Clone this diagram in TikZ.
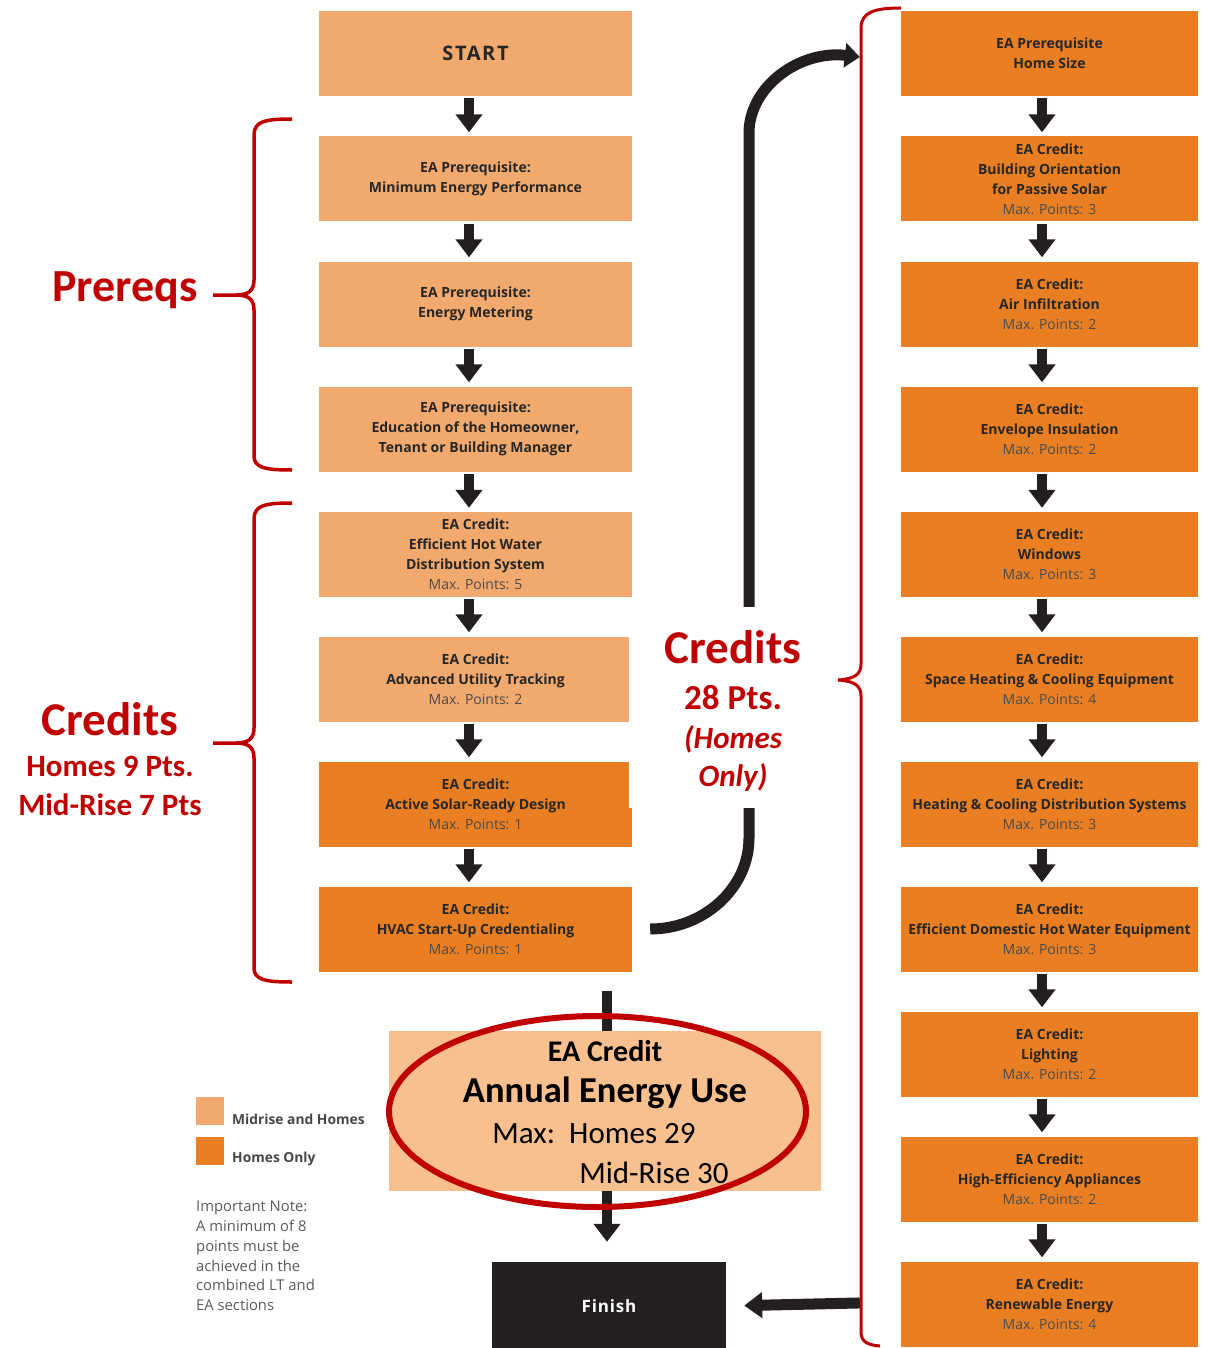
\documentclass[tikz,border=0pt]{standalone}
\usepackage{fontspec}
\setmainfont{Open Sans}
\newfontfamily\calib{Carlito}
\usetikzlibrary{arrows.meta}
\definecolor{lightor}{HTML}{F2A96D}
\definecolor{darkor}{HTML}{E97F22}
\definecolor{peach}{HTML}{F8C08F}
\definecolor{redc}{HTML}{C00000}
\definecolor{arrowc}{HTML}{231F20}
\definecolor{txtc}{HTML}{262626}
\definecolor{maxgray}{HTML}{4A4A4A}
\definecolor{notegray}{HTML}{5A5A5A}
\newcommand\maxpts[1]{{\mdseries\color{maxgray}#1}}
\begin{document}
\begin{tikzpicture}[x=1pt,y=-1pt,
  box/.style={rectangle, inner sep=0pt, minimum height=85pt, align=center, text=txtc, font=\fontsize{14}{20}\selectfont\bfseries},
  lbox/.style={box, minimum width=313pt, fill=lightor},
  dbox/.style={box, minimum width=313pt, fill=darkor},
  rbox/.style={box, minimum width=297pt, fill=darkor},
  flow/.style={draw=arrowc, line width=10pt, -{Triangle[width=26pt,length=18pt]}, shorten <=2pt, shorten >=4pt},
  brace/.style={draw=redc, line width=3.5pt, line join=round},
  redlbl/.style={text=redc, inner sep=0pt},
]
\useasboundingbox (0,0) rectangle (1207,1348);
\fill[white] (0,0) rectangle (1207,1348);

% left column
\node[lbox] (start) at (475.5,53.5) {\fontsize{20}{22}\selectfont\addfontfeature{LetterSpace=8}START};
\node[lbox] (p1) at (475.5,179) {EA Prerequisite:\\Minimum Energy Performance};
\node[lbox] (p2) at (475.5,304) {EA Prerequisite:\\Energy Metering};
\node[lbox] (p3) at (475.5,429) {EA Prerequisite:\\Education of the Homeowner,\\Tenant or Building Manager};
\node[lbox] (c1) at (475.5,554.5) {EA Credit:\\Efficient Hot Water\\Distribution System\\\maxpts{Max. Points: 5}};
\node[lbox] (c2) at (475.5,679) {EA Credit:\\Advanced Utility Tracking\\\maxpts{Max. Points: 2}};
\node[dbox] (c3) at (475.5,804) {EA Credit:\\Active Solar-Ready Design\\\maxpts{Max. Points: 1}};
\node[dbox] (c4) at (475.5,929) {EA Credit:\\HVAC Start-Up Credentialing\\\maxpts{Max. Points: 1}};

\foreach \a/\b in {start/p1,p1/p2,p2/p3,p3/c1,c1/c2,c2/c3,c3/c4}
  \draw[flow] ([xshift=-6.5pt]\a.south) -- ([xshift=-6.5pt]\b.north);

% right column
\node[rbox] (home) at (1049.5,53.5) {EA Prerequisite\\Home Size};
\node[rbox] (orient) at (1049.5,179) {EA Credit:\\Building Orientation\\for Passive Solar\\\maxpts{Max. Points: 3}};
\node[rbox] (air) at (1049.5,304) {EA Credit:\\Air Infiltration\\\maxpts{Max. Points: 2}};
\node[rbox] (env) at (1049.5,429) {EA Credit:\\Envelope Insulation\\\maxpts{Max. Points: 2}};
\node[rbox] (win) at (1049.5,554.5) {EA Credit:\\Windows\\\maxpts{Max. Points: 3}};
\node[rbox] (space) at (1049.5,679) {EA Credit:\\Space Heating \& Cooling Equipment\\\maxpts{Max. Points: 4}};
\node[rbox] (hcdist) at (1049.5,804) {EA Credit:\\Heating \& Cooling Distribution Systems\\\maxpts{Max. Points: 3}};
\node[rbox] (dhw) at (1049.5,929) {EA Credit:\\Efficient Domestic Hot Water Equipment\\\maxpts{Max. Points: 3}};
\node[rbox] (light) at (1049.5,1054) {EA Credit:\\Lighting\\\maxpts{Max. Points: 2}};
\node[rbox] (appl) at (1049.5,1179) {EA Credit:\\High-Efficiency Appliances\\\maxpts{Max. Points: 2}};
\node[rbox] (renew) at (1049.5,1304) {EA Credit:\\Renewable Energy\\\maxpts{Max. Points: 4}};

\foreach \a/\b in {home/orient,orient/air,air/env,env/win,win/space,space/hcdist,hcdist/dhw,dhw/light,light/appl,appl/renew}
  \draw[flow] ([xshift=-7.5pt]\a.south) -- ([xshift=-7.5pt]\b.north);

% annual energy use and finish
\node[rectangle, fill=peach, minimum width=432pt, minimum height=160pt, inner sep=0pt] (annual) at (605,1111) {};
\node[rectangle, fill=arrowc, minimum width=234pt, minimum height=88pt, inner sep=0pt, text=white, font=\fontsize{17}{18}\selectfont\bfseries\addfontfeature{LetterSpace=5}] (finish) at (609,1306) {Finish};

\draw[draw=arrowc, line width=10pt, shorten <=19pt] ([xshift=2pt]annual.north |- c4.south) -- ([xshift=2pt]annual.north);
\draw[flow, shorten <=0pt, shorten >=20pt] ([xshift=2pt]annual.south) -- ([xshift=2pt]annual.south |- finish.north);
\draw[draw=arrowc, line width=11pt, -{Triangle[width=25pt,length=18pt]}, shorten <=41pt, shorten >=18pt] ([yshift=2pt]renew.west) -- ([yshift=0pt]finish.east);

% big curved arrow
\draw[draw=arrowc, line width=11pt, -{Triangle[width=24pt,length=15pt]}]
  ([xshift=18pt]c4.east) .. controls (704,929) and (749,888) .. (749,838)
  -- (749,133) .. controls (749,87) and (799,50) .. ([xshift=-41pt,yshift=-3.5pt]home.west);

% white label box
\node[rectangle, fill=white, minimum width=209pt, minimum height=201pt, inner sep=0pt] (credbox) at (733.5,707.5) {};
\node[redlbl, font=\calib\bfseries\fontsize{47}{50}\selectfont] (credR) at (733,647) {Credits};
\node[redlbl, font=\calib\bfseries\fontsize{35}{40}\selectfont] (ptsR) at (733,698) {28 Pts.};
\node[redlbl, font=\calib\bfseries\itshape\fontsize{31}{34}\selectfont] (homesR) at (733,739) {(Homes};
\node[redlbl, font=\calib\bfseries\itshape\fontsize{31}{34}\selectfont] (onlyR) at (733,777) {Only)};

% braces
\draw[brace] (292,119) .. controls (266,119) and (254,121) .. (254,135) -- (254,280) .. controls (254,291) and (248,295) .. (236,295) -- (213,295);
\draw[brace] (236,295) .. controls (248,295) and (254,299) .. (254,310) -- (254,456) .. controls (254,468) and (266,470) .. (292,470);
\draw[brace] (292,503) .. controls (266,503) and (254,505) .. (254,519) -- (254,728) .. controls (254,739) and (248,743) .. (236,743) -- (213,743);
\draw[brace] (236,743) .. controls (248,743) and (254,747) .. (254,758) -- (254,968) .. controls (254,980) and (266,982) .. (292,982);
\draw[brace, line width=3pt] (901,8) .. controls (875,8) and (861,12) .. (861,28) -- (861,664) .. controls (861,674) and (855,679) .. (838,680);
\draw[brace, line width=3pt] (838,680) .. controls (855,681) and (861,686) .. (861,696) -- (861,1332) .. controls (861,1342) and (868,1345) .. (880,1346);

% left red labels
\node[redlbl, font=\calib\bfseries\fontsize{46}{50}\selectfont] (prereqs) at (125,290) {Prereqs};
\node[redlbl, font=\calib\bfseries\fontsize{47}{50}\selectfont] (credL) at (110,719) {Credits};
\node[redlbl, font=\calib\bfseries\fontsize{31}{34}\selectfont] (homesL) at (110,766) {Homes 9 Pts.};
\node[redlbl, font=\calib\bfseries\fontsize{31}{34}\selectfont] (midL) at (110,805) {Mid-Rise 7 Pts};

% annual texts
\node[inner sep=0pt, text=black, font=\calib\bfseries\fontsize{30}{34}\selectfont] (eacred) at (605,1051) {EA Credit};
\node[inner sep=0pt, text=black, font=\calib\bfseries\fontsize{36.5}{40}\selectfont] (aeu) at (605,1093) {Annual Energy Use};
\node[inner sep=0pt, text=black, font=\calib\fontsize{31}{34}\selectfont] (maxh) at (594,1134) {Max:\ \ Homes 29};
\node[inner sep=0pt, text=black, font=\calib\fontsize{31}{34}\selectfont] (maxm) at (654,1173) {Mid-Rise 30};
\draw[draw=redc, line width=6pt] (597.5,1111.5) ellipse [x radius=208.5pt, y radius=95.5pt];

% legend
\node[rectangle, fill=lightor, minimum width=28pt, minimum height=28pt, inner sep=0pt] (lg1) at (210,1111) {};
\node[rectangle, fill=darkor, minimum width=28pt, minimum height=28pt, inner sep=0pt] (lg2) at (210,1151) {};
\node[anchor=west, inner sep=0pt, text=txtc!85, font=\fontsize{13.8}{16}\selectfont\bfseries] (lg1t) at (232,1119) {Midrise and Homes};
\node[anchor=west, inner sep=0pt, text=txtc!85, font=\fontsize{13.8}{16}\selectfont\bfseries] (lg2t) at (232,1159) {Homes Only};
\node[anchor=north west, inner sep=0pt, align=left, text=notegray, font=\fontsize{14.8}{19.8}\selectfont] (note) at (196,1201) {Important Note:\\A minimum of 8\\points must be\\achieved in the\\combined LT and\\EA sections};
\end{tikzpicture}
\end{document}
